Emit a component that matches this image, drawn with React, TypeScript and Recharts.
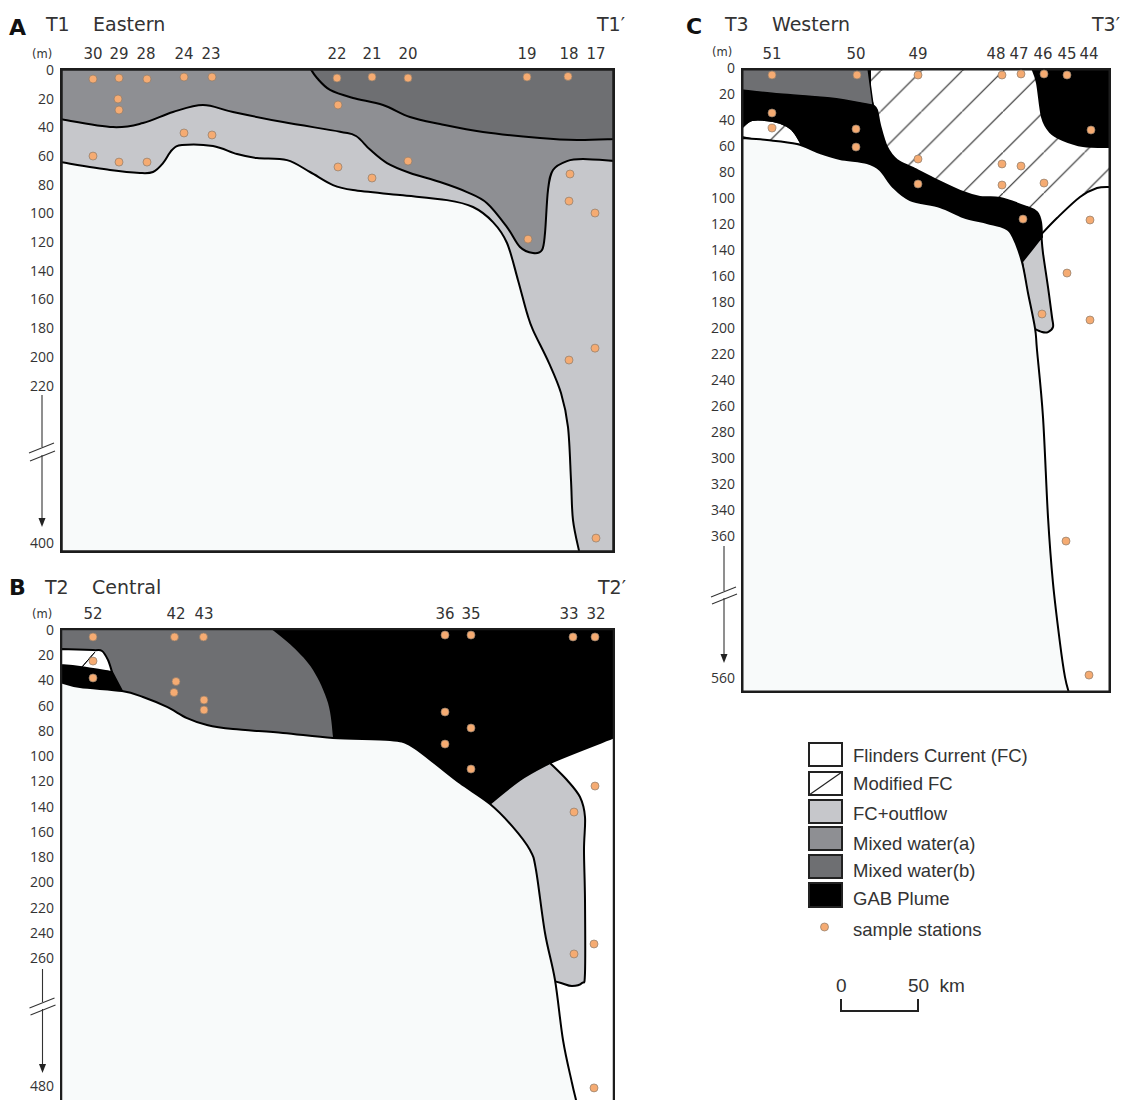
import React from 'react';
import { ScatterChart, Scatter, XAxis, YAxis } from 'recharts';

type Pair = [number, number];

const FC_OUTFLOW = '#c6c7cb';
const MIXED_A = '#8e8f93';
const MIXED_B = '#6e6f72';
const PLUME = '#000000';
const SEABED = '#f8fafa';
const INK = '#333333';

// Distances are along the transect (same unit on all three sections), depths in metres.
// A repeated pair marks a sharp corner in an outline.

// T1 Eastern
const t1Stations = [30, 29, 28, 24, 23, 22, 21, 20, 19, 18, 17];
const t1StationX = [33, 59, 86, 124, 151, 277, 312, 348, 467, 509, 536];
const t1DepthTicks = [0, 20, 40, 60, 80, 100, 120, 140, 160, 180, 200, 220, 400];
const t1Samples: Pair[] = [
  [33, 6.3], [59, 5.6], [87, 6.3], [124, 4.9], [152, 4.9], [277, 5.6], [312, 4.9], [348, 5.6], [467, 4.9], [508, 4.5],
  [58, 20.2], [59, 27.9], [278, 24.4], [124, 43.9], [152, 45.3],
  [33, 60], [59, 64.2], [87, 64.2], [278, 67.6], [312, 75.3], [348, 63.5],
  [510, 72.5], [509, 91.4], [535, 99.7], [468, 117.9], [535, 193.9], [509, 202.2], [536, 394],
];
const t1MixedA: Pair[] = [
  [0, 34.2], [0, 34.2], [53, 39.8], [83, 37], [113, 29.3], [143, 24.4], [173, 29.3], [223, 36.3], [280, 43], [296, 46],
  [310, 55.5], [327, 64.9], [350, 71.8], [380, 78.1], [407, 85.1], [427, 92.8], [447, 109.5], [460, 123.4], [473, 127.6],
  [482, 125.5], [485, 113.7], [488, 83.7], [493, 69.7], [507, 63.5], [523, 62.1], [555, 63.5], [555, 63.5],
  [555, -1.4], [555, -1.4], [0, -1.4], [0, -1.4],
];
const t1MixedB: Pair[] = [
  [250, -1.4], [250, -1.4], [257, 5.6], [270, 13.9], [293, 19.5], [323, 24.4], [350, 32.8], [380, 37.7], [423, 43.2],
  [480, 47.4], [517, 48.8], [555, 48.1], [555, 48.1], [555, -1.4], [555, -1.4],
];
const t1Seabed: Pair[] = [
  [0, 64.2], [0, 64.2], [50, 69.7], [80, 71.8], [93, 71.1], [103, 64.9], [112, 55.8], [122, 52.3], [153, 53], [177, 58.6],
  [197, 61.4], [227, 62.8], [250, 71.1], [273, 80.2], [293, 83.7], [340, 87.2], [387, 90.7], [413, 95.5], [433, 106],
  [447, 120.6], [458, 146.5], [467, 169.5], [473, 181.3], [489, 204.3], [501, 228.5], [508, 267.3], [511, 327.9],
  [513, 373.5], [519.5, 411], [519.5, 411], [0, 411], [0, 411],
];

// T2 Central
const t2Stations = [52, 42, 43, 36, 35, 33, 32];
const t2StationX = [33, 116, 144, 385, 411, 509, 536];
const t2DepthTicks = [0, 20, 40, 60, 80, 100, 120, 140, 160, 180, 200, 220, 240, 260, 480];
const t2Samples: Pair[] = [
  [33, 5.5], [114.5, 5.5], [143.5, 5.5], [33, 24.6], [33, 38], [116, 40.8], [114, 49.5], [144, 55.5], [144, 63.4],
  [385, 4], [411, 4], [513, 5.5], [535, 5.5], [385, 65], [411, 77.7], [385, 90.4], [411, 110.2], [535, 123.7],
  [514, 144.3], [514, 256.8], [534, 248.9], [534, 483.4],
];
const t2Plume: Pair[] = [
  [0, -1.6], [0, -1.6], [555, -1.6], [555, -1.6], [555, 84.8], [555, 84.8], [490, 105.4], [460, 118.9], [425, 141], [425, 141],
  [0, 141], [0, 141],
];
const t2Outflow: Pair[] = [
  [425, 141], [425, 141], [460, 118.9], [490, 105.4], [490, 105.4], [507, 118.9], [520, 132.4], [525, 148.2], [524, 174.4],
  [525, 214], [525, 285.8], [522, 303], [512, 308.2], [501, 303], [490, 297.8], [490, 297.8],
];
const t2Mixed: Pair[] = [
  [0, -1.6], [0, -1.6], [210, -1.6], [210, -1.6], [233, 13.5], [253, 31.7], [268, 57.9], [273, 84.8], [273, 91.2], [273, 91.2],
  [0, 91.2], [0, 91.2],
];
const t2SmallPlume: Pair[] = [[0, 27.7], [0, 27.7], [20, 29.3], [52, 33.3], [52, 33.3], [62, 48.4], [62, 48.4], [0, 48.4], [0, 48.4]];
const t2Current: Pair[] = [
  [0, 15.1], [0, 15.1], [33, 15.9], [42, 16.6], [48, 23.8], [52, 33.3], [52, 33.3], [20, 29.3], [0, 27.7], [0, 27.7],
];
const t2ModifiedEdge: Pair[] = [[35, 17.4], [22, 29.3]];
const t2Seabed: Pair[] = [
  [0, 41.2], [0, 41.2], [20, 45.2], [62, 48.4], [83, 53.1], [107, 61], [127, 69.8], [147, 75.3], [173, 78.5], [223, 81.6],
  [273, 85.6], [330, 87.2], [350, 91.2], [373, 104.6], [400, 121.3], [430, 137.9], [453, 156.2], [470, 174.4], [476, 190.2],
  [485, 240.2], [495, 297.8], [503, 401], [512, 475], [516, 504.3], [517, 514.5], [517, 514.5], [0, 514.5], [0, 514.5],
];

// T3 Western
const t3Stations = [51, 50, 49, 48, 47, 46, 45, 44];
const t3StationX = [31, 115, 177, 255, 278, 302, 326, 348];
const t3DepthTicks = [0, 20, 40, 60, 80, 100, 120, 140, 160, 180, 200, 220, 240, 260, 280, 300, 320, 340, 360, 560];
const t3Samples: Pair[] = [
  [31, 5.4], [116, 5.4], [177, 5.4], [261, 5.4], [280, 4.6], [303, 4.6], [326, 5.4], [31, 34.6], [31, 46.2], [115, 46.9],
  [115, 60.8], [350, 47.7], [177, 70], [261, 73.8], [280, 75.4], [303, 88.5], [261, 90], [177, 89.2], [282, 116.2],
  [349, 116.9], [326, 157.7], [301, 189.2], [349, 193.8], [325, 367], [348, 555.8],
];
const t3Modified: Pair[] = [
  [129, 0], [129, 0], [370, 0], [370, 0], [370, 91.5], [370, 91.5], [356, 92.3], [339, 99.2], [316, 115.4], [299, 129], [299, 129],
  [259, 147.7], [259, 147.7], [129, 101.5], [129, 101.5],
];
const t3ModifiedPatch: Pair[] = [
  [0, 46.2], [0, 46.2], [11, 40], [32, 40.8], [46, 44.6], [54, 50], [61, 59.2], [61, 59.2], [29, 56.9], [0, 53.1], [0, 53.1],
];
const t3Plume: Pair[] = [
  [0, 10], [0, 10], [125, 10], [125, 10], [132, 28.5], [132, 28.5], [136, 32.3], [139, 43.8], [146, 60.8], [156, 70.8], [172, 76.9], [196, 86.2],
  [222, 95.4], [239, 99.2], [259, 100], [286, 106.9], [296, 110.8], [300, 118.5], [301, 130], [301, 130], [281, 149.2], [281, 149.2],
  [259, 147.7], [259, 147.7], [61, 147.7], [61, 147.7], [61, 59.2], [61, 59.2], [54, 50], [46, 44.6], [32, 40.8], [11, 40], [0, 46.2], [0, 46.2],
];
const t3Mixed: Pair[] = [[0, 0], [0, 0], [127, 0], [127, 0], [132, 28.5], [132, 28.5], [89, 23.1], [39, 20], [0, 16.9], [0, 16.9]];
const t3RightPlume: Pair[] = [
  [291, 0], [291, 0], [296, 11.5], [301, 37.7], [309, 49.2], [322, 55.4], [342, 60], [370, 60.8], [370, 60.8], [370, 0], [370, 0],
];
const t3Outflow: Pair[] = [
  [300.5, 130], [300.5, 130], [302, 142.3], [307, 168.5], [311, 191.5], [312, 199.2], [307, 203.1], [301, 203.1], [292, 200], [292, 200],
  [281, 149.2], [281, 149.2],
];
const t3Seabed: Pair[] = [
  [0, 53.8], [0, 53.8], [26, 55.4], [56, 58.5], [79, 65.4], [99, 70], [126, 73.1], [139, 78.5], [152, 91.5], [169, 101.5],
  [199, 106.9], [222, 114.6], [246, 119.2], [264, 123.1], [272, 130], [281, 149.2], [287, 173], [294, 200], [296, 216.9],
  [302, 268.5], [307, 345.4], [312, 426.3], [319, 510.7], [324, 558.7], [328, 581], [328, 581], [0, 581], [0, 581],
];

const legendRows = ['Flinders Current (FC)', 'Modified FC', 'FC+outflow', 'Mixed water(a)', 'Mixed water(b)', 'GAB Plume'];
const legendFills = ['#ffffff', '#ffffff', FC_OUTFLOW, MIXED_A, MIXED_B, PLUME];

// closed Catmull-Rom outline through the scaled points, doubled points stay sharp
const outline = (pts: { x: number; y: number }[]) => {
  const n = pts.length;
  let d = `M${pts[0].x},${pts[0].y}`;
  for (let i = 0; i < n; i++) {
    const p0 = pts[(i - 1 + n) % n];
    const p1 = pts[i];
    const p2 = pts[(i + 1) % n];
    const p3 = pts[(i + 2) % n];
    if (p1.x === p2.x && p1.y === p2.y) continue;
    d += `C${p1.x + (p2.x - p0.x) / 6},${p1.y + (p2.y - p0.y) / 6} ${p2.x - (p3.x - p1.x) / 6},${p2.y - (p3.y - p1.y) / 6} ${p2.x},${p2.y}`;
  }
  return d + 'Z';
};

const region = (name: string, data: { x: number; y: number }[], fill: string, stroke = '#000', strokeWidth = 2) => (
  <Scatter
    key={name}
    data={data}
    isAnimationActive={false}
    shape={() => null}
    line={(p: any) => <path d={outline(p.points)} fill={fill} stroke={stroke} strokeWidth={strokeWidth} strokeLinejoin="round" />}
  />
);

const SampleDot = (p: any) => <circle cx={p.cx} cy={p.cy} r={4} fill="#f5ab72" stroke="#8d7b6b" strokeWidth={0.7} />;

type Layer = { name: string; pts: Pair[]; fill: string; stroke?: string; width?: number };

type SectionProps = {
  left: number;
  top: number;
  width: number;
  height: number;
  rightMargin: number;
  xMax: number;
  yTop: number;
  yBottom: number;
  breakAt: number;
  ratio: number;
  stations: number[];
  stationX: number[];
  depthTicks: number[];
  samples: Pair[];
  layers: Layer[];
  frameWidth: number;
  defs?: React.ReactNode;
};

const Section = (s: SectionProps) => {
  // the depth axis is compressed below the break
  const project = (d: number) => (d <= s.breakAt ? d : s.breakAt + (d - s.breakAt) * s.ratio);
  const toPoints = (pts: Pair[]) => pts.map(([x, d]) => ({ x, y: project(d) }));
  const yDomain = [project(s.yTop), project(s.yBottom)];
  const frame: Pair[] = [
    [0, s.yTop], [0, s.yTop], [s.xMax, s.yTop], [s.xMax, s.yTop],
    [s.xMax, s.yBottom], [s.xMax, s.yBottom], [0, s.yBottom], [0, s.yBottom],
  ];
  return (
    <div style={{ position: 'absolute', left: s.left, top: s.top }}>
      <ScatterChart width={s.width} height={s.height} margin={{ top: 8, right: s.rightMargin, bottom: 2, left: 5 }}>
        {s.defs}
        <XAxis
          type="number"
          dataKey="x"
          orientation="top"
          domain={[0, s.xMax]}
          allowDataOverflow
          ticks={s.stationX}
          interval={0}
          height={30}
          axisLine={false}
          tickLine={false}
          tickSize={0}
          tickMargin={9}
          tickFormatter={(v: number) => String(s.stations[s.stationX.indexOf(v)])}
          tick={{ fill: INK, fontSize: 15, fontFamily: 'DejaVu Sans' }}
        />
        <YAxis
          type="number"
          dataKey="y"
          reversed
          domain={yDomain}
          allowDataOverflow
          ticks={s.depthTicks.map(project)}
          interval={0}
          width={55}
          axisLine={false}
          tickLine={false}
          tickSize={0}
          tickMargin={6}
          tickFormatter={(v: number) => String(s.depthTicks[s.depthTicks.map(project).indexOf(v)])}
          tick={{ fill: INK, fontSize: 14, fontFamily: 'Open Sans' }}
        />
        {s.layers.map((l) => region(l.name, toPoints(l.pts), l.fill, l.stroke, l.width))}
        {/* the plot clip cuts the outer half of this stroke */}
        {region('frame', toPoints(frame), 'none', '#1c1c1c', s.frameWidth)}
        <Scatter data={toPoints(s.samples)} isAnimationActive={false} shape={SampleDot} />
      </ScatterChart>
    </div>
  );
};

const Title = ({ x, y, children, size = 19, bold = false }: { x: number; y: number; children: string; size?: number; bold?: boolean }) => (
  <text x={x} y={y} fontSize={size} fontWeight={bold ? 700 : 400} fontFamily="DejaVu Sans" fill={bold ? '#111' : INK} dominantBaseline="central">
    {children}
  </text>
);

const AxisBreak = ({ x, from, to, y1, y2 }: { x: number; from: number; to: number; y1: number; y2: number }) => (
  <g stroke="#333" fill="none" strokeWidth={1.1}>
    <path d={`M${x},${from}V${y1 - 1}`} />
    <path d={`M${x},${y2 - 1}V${to - 8}`} />
    <path d={`M${x - 3.5},${to - 9}H${x + 3.5}L${x},${to}Z`} fill="#222" stroke="none" />
    <path d={`M${x - 13},${y1 + 5}L${x + 12},${y1 - 5}`} />
    <path d={`M${x - 12},${y2 + 5}L${x + 13},${y2 - 5}`} />
  </g>
);

const legendBoxY = [743, 772, 800, 827, 855, 883];
const legendTextY = [755, 783, 813, 843, 870, 898];

const Annotations = () => (
  <svg width={1123} height={1100} style={{ position: 'absolute', left: 0, top: 0, pointerEvents: 'none' }}>
    <Title x={9} y={27} size={22} bold>A</Title>
    <Title x={46} y={24}>T1</Title>
    <Title x={93} y={24}>Eastern</Title>
    <Title x={597} y={24}>T1′</Title>
    <Title x={9} y={587} size={22} bold>B</Title>
    <Title x={45} y={587}>T2</Title>
    <Title x={92} y={587}>Central</Title>
    <Title x={598} y={587}>T2′</Title>
    <Title x={686} y={26} size={22} bold>C</Title>
    <Title x={725} y={24}>T3</Title>
    <Title x={772} y={24}>Western</Title>
    <Title x={1092} y={24}>T3′</Title>
    <Title x={32} y={54} size={11.5}>(m)</Title>
    <Title x={32} y={614} size={11.5}>(m)</Title>
    <Title x={712} y={52} size={11.5}>(m)</Title>
    <AxisBreak x={42} from={395} to={527} y1={448} y2={456} />
    <AxisBreak x={42.5} from={969} to={1073} y1={1003} y2={1010} />
    <AxisBreak x={724} from={546} to={663} y1={592} y2={599} />
    {legendRows.map((label, i) => {
      const y = legendBoxY[i];
      const h = i === 5 ? 24 : 23;
      return (
        <g key={label}>
          <rect x={809} y={y} width={33} height={h} fill={legendFills[i]} stroke="#222" strokeWidth={2} />
          {i === 1 && <path d={`M809,${y + h}L842,${y}`} stroke="#222" strokeWidth={1.2} />}
          <text x={853} y={legendTextY[i]} fontSize={18.5} fontFamily="Liberation Sans" fill={INK} dominantBaseline="central">
            {label}
          </text>
        </g>
      );
    })}
    <circle cx={824.5} cy={927} r={4} fill="#f5ab72" stroke="#8d7b6b" strokeWidth={0.7} />
    <text x={853} y={929} fontSize={18.5} fontFamily="Liberation Sans" fill={INK} dominantBaseline="central">sample stations</text>
    <text x={836} y={985} fontSize={19} fontFamily="Liberation Sans" fill={INK} dominantBaseline="central">0</text>
    <text x={908} y={985} fontSize={19} fontFamily="Liberation Sans" fill={INK} dominantBaseline="central" wordSpacing={5}>50 km</text>
    <path d="M841,999V1011H918V999" fill="none" stroke="#222" strokeWidth={2} />
  </svg>
);

const hatch = (
  <defs>
    <pattern id="modifiedFc" width={40.8} height={40.8} patternUnits="userSpaceOnUse" patternTransform="translate(36.4,0)">
      <rect width={40.8} height={40.8} fill="#fff" />
      <path d="M-1,41.8L41.8,-1" stroke="#222" strokeWidth={1.1} />
    </pattern>
  </defs>
);

export default function App() {
  return (
    <div style={{ position: 'absolute', left: 0, top: 0, width: 1123, height: 1100, overflow: 'hidden', background: '#fff' }}>
      <Section
        left={0} top={30} width={640} height={525} rightMargin={25}
        xMax={555} yTop={-1.4} yBottom={411} breakAt={220} ratio={0.611}
        stations={t1Stations} stationX={t1StationX} depthTicks={t1DepthTicks} samples={t1Samples}
        frameWidth={5.5}
        layers={[
          { name: 'outflow', pts: [[0, -1.4], [0, -1.4], [555, -1.4], [555, -1.4], [555, 411], [555, 411], [0, 411], [0, 411]], fill: FC_OUTFLOW, stroke: 'none' },
          { name: 'mixedA', pts: t1MixedA, fill: MIXED_A },
          { name: 'mixedB', pts: t1MixedB, fill: MIXED_B },
          { name: 'seabed', pts: t1Seabed, fill: SEABED },
        ]}
      />
      <Section
        left={0} top={590} width={640} height={518} rightMargin={25}
        xMax={555} yTop={-1.6} yBottom={514.5} breakAt={260} ratio={0.461}
        stations={t2Stations} stationX={t2StationX} depthTicks={t2DepthTicks} samples={t2Samples}
        frameWidth={4.5}
        layers={[
          { name: 'plume', pts: t2Plume, fill: PLUME },
          { name: 'outflow', pts: t2Outflow, fill: FC_OUTFLOW },
          { name: 'mixed', pts: t2Mixed, fill: MIXED_B, stroke: 'none' },
          { name: 'smallPlume', pts: t2SmallPlume, fill: PLUME },
          { name: 'current', pts: t2Current, fill: '#fff' },
          { name: 'modifiedEdge', pts: t2ModifiedEdge, fill: 'none', width: 1 },
          { name: 'seabed', pts: t2Seabed, fill: SEABED },
        ]}
      />
      <Section
        left={681} top={30} width={435} height={665} rightMargin={5}
        xMax={370} yTop={0} yBottom={581} breakAt={360} ratio={0.546}
        stations={t3Stations} stationX={t3StationX} depthTicks={t3DepthTicks} samples={t3Samples}
        frameWidth={5}
        defs={hatch}
        layers={[
          { name: 'modified', pts: t3Modified, fill: 'url(#modifiedFc)' },
          { name: 'patch', pts: t3ModifiedPatch, fill: 'url(#modifiedFc)' },
          { name: 'plume', pts: t3Plume, fill: PLUME },
          { name: 'mixed', pts: t3Mixed, fill: MIXED_B, stroke: '#000', width: 1.5 },
          { name: 'rightPlume', pts: t3RightPlume, fill: PLUME },
          { name: 'outflow', pts: t3Outflow, fill: '#c9cacd' },
          { name: 'seabed', pts: t3Seabed, fill: SEABED },
        ]}
      />
      <Annotations />
    </div>
  );
}
